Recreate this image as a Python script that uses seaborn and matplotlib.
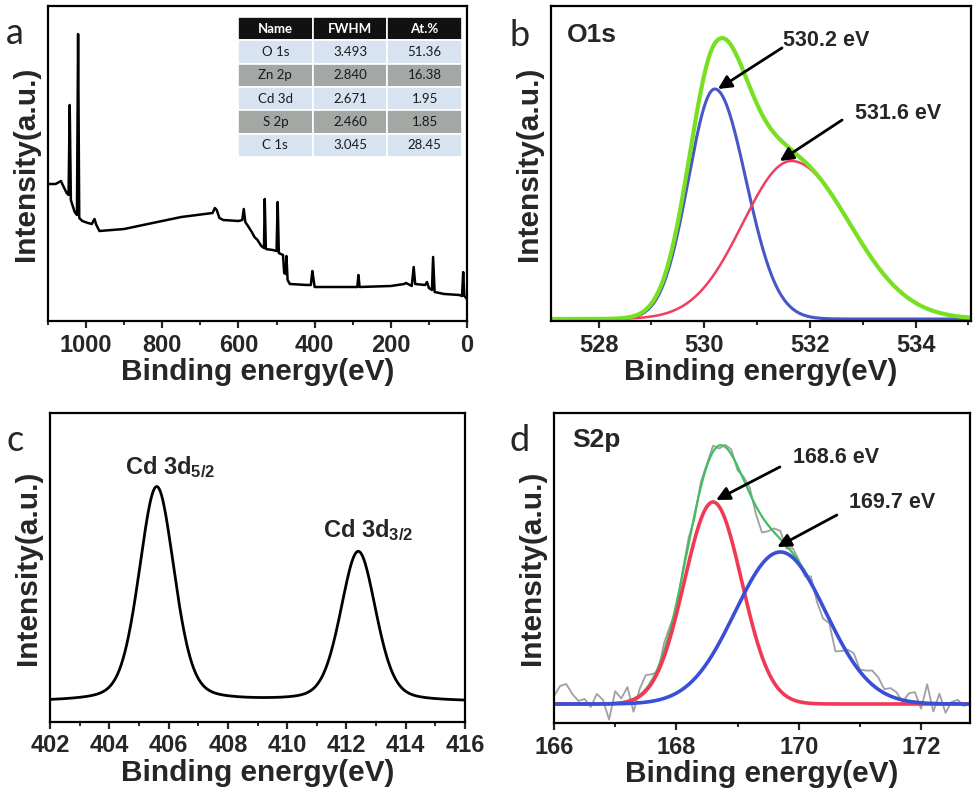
import numpy as np
import pandas as pd
import matplotlib
matplotlib.use("Agg")
import matplotlib.pyplot as plt
import seaborn as sns
from matplotlib.ticker import MultipleLocator

# ---------------- data ----------------
# (a) survey spectrum
survey_energy = [1100, 1080, 1066, 1060, 1051, 1046, 1043, 1040, 1030, 1024, 1021, 1018,
                 1010, 995, 985, 978, 973, 965, 900, 838, 750, 668, 662, 657, 650, 640,
                 600, 590, 586, 582, 575, 565, 558, 550, 540, 533, 531, 528, 510, 500,
                 497, 494, 483, 480, 476, 474, 471, 465, 420, 410, 406, 403, 400, 300,
                 288, 285, 282, 200, 165, 160, 145, 140, 136, 110, 105, 100, 92, 89,
                 85, 60, 20, 13, 10, 7, 2, 0]
survey_intensity = [137, 137, 140, 135, 128, 126, 216, 121, 109, 106, 287, 103,
                    100, 98, 97, 102, 96, 90, 92, 97, 104, 108, 113, 111, 103, 101,
                    100, 101, 112, 99, 95, 89, 84, 81, 75, 73, 122, 72, 71, 70,
                    119, 68, 66, 48, 47, 65, 41, 37, 36, 36, 50, 42, 34, 34,
                    34, 46, 34, 35, 37, 38, 35, 54, 37, 36, 39, 33, 31, 64,
                    29, 27, 26, 25, 49, 25, 23, 22]

table_columns = ["Name", "FWHM", "At.%"]
table_names = ["O 1s", "Zn 2p", "Cd 3d", "S 2p", "C 1s"]
table_fwhm = ["3.493", "2.840", "2.671", "2.460", "3.045"]
table_at = ["51.36", "16.38", "1.95", "1.85", "28.45"]

# (b) O1s fit components
o1s_centers = [530.2, 531.65]
o1s_heights = [230, 158]
o1s_sigma_left = [0.50, 0.92]
o1s_sigma_right = [0.59, 1.10]
o1s_baseline = 2
o1s_labels = ["530.2 eV", "531.6 eV"]

# (c) Cd 3d peaks
cd_centers = [405.6, 412.4]
cd_heights = [215, 150]
cd_fwhm = [1.41, 1.41]
cd_eta = 0.3
cd_baseline = 20
cd_labels = [r"Cd 3d$_{\mathbf{5/2}}$", r"Cd 3d$_{\mathbf{3/2}}$"]

# (d) S2p fit components + raw residual (raw - fit), 0.1 eV steps from 166.0
s2p_centers = [168.6, 169.7]
s2p_heights = [202, 152]
s2p_sigma = [0.47, 0.74]
s2p_baseline = 19
s2p_labels = ["168.6 eV", "169.7 eV"]
s2p_residual = [8, 18, 20, 10, 3, 5, -3, 10, 4, -16,
                12, 4, 14, -13, 6, 14, 6, -4, 8, 4,
                -6, 3, 6, -4, 5, 2, 6, -3, 2, 5,
                -4, 3, 6, -8, -16, -6, 4, 8, -3, 5,
                2, -5, 6, -8, -12, -4, -20, -8, 4, 10,
                2, 8, 14, 12, 4, 8, 6, -2, 8, 10,
                -6, 19, -8, 10, -9, 2, 4, -2, 0]

# ---------------- helpers ----------------
def asym_gauss(x, c, h, sl, sr):
    s = np.where(x < c, sl, sr)
    return h * np.exp(-(x - c) ** 2 / (2 * s ** 2))

def gauss(x, c, h, s):
    return h * np.exp(-(x - c) ** 2 / (2 * s ** 2))

def pvoigt(x, c, h, fwhm, eta):
    sg = fwhm / 2.3548
    g = np.exp(-(x - c) ** 2 / (2 * sg ** 2))
    l = 1.0 / (1.0 + ((x - c) / (fwhm / 2)) ** 2)
    return h * ((1 - eta) * g + eta * l)

# ---------------- style ----------------
sns.set_style("ticks")
plt.rcParams["font.family"] = ["Liberation Sans", "DejaVu Sans"]
plt.rcParams["mathtext.fontset"] = "custom"
plt.rcParams["mathtext.rm"] = "Liberation Sans:bold"
plt.rcParams["mathtext.bf"] = "Liberation Sans:bold"
plt.rcParams["mathtext.it"] = "Liberation Sans:bold"

fig = plt.figure(figsize=(9.8, 7.91), dpi=100)
W, H = 980, 791

def axes_px(l, t, r, b):
    return fig.add_axes([l / W, 1 - b / H, (r - l) / W, (b - t) / H])

ax_a = axes_px(48, 6, 467, 321)
ax_b = axes_px(551, 6, 971, 321)
ax_c = axes_px(50, 413, 465, 722)
ax_d = axes_px(554, 413, 970, 723)

def style_axis(ax, major, minor):
    ax.xaxis.set_major_locator(MultipleLocator(major))
    ax.xaxis.set_minor_locator(MultipleLocator(minor))
    ax.set_yticks([])
    ax.tick_params(axis="x", which="major", direction="out", length=5, width=1.6,
                   labelsize=17, pad=4)
    ax.tick_params(axis="x", which="minor", direction="out", length=3, width=1.4)
    for lab in ax.get_xticklabels():
        lab.set_fontweight("bold")
    for sp in ax.spines.values():
        sp.set_visible(True)
        sp.set_linewidth(1.6)
        sp.set_color("black")
    ax.set_xlabel("Binding energy(eV)", fontsize=21.5, fontweight="bold", labelpad=1)
    ax.set_ylabel("Intensity(a.u.)", fontsize=21.5, fontweight="bold", labelpad=6)

# ---------------- (a) ----------------
df_a = pd.DataFrame({"E": survey_energy, "I": survey_intensity})
sns.lineplot(data=df_a, x="E", y="I", ax=ax_a, color="black", lw=1.8,
             estimator=None, sort=False)
ax_a.set_xlim(1100, 0)
ax_a.set_ylim(0, 315)
style_axis(ax_a, 200, 100)

cell_text = [[n, f, a] for n, f, a in zip(table_names, table_fwhm, table_at)]
tab = ax_a.table(cellText=cell_text, colLabels=table_columns, cellLoc="center",
                 bbox=[(238 - 48) / 419, (321 - 157) / 315, 224 / 419, 140 / 315])
tab.auto_set_font_size(False)
for (r, c), cell in tab.get_celld().items():
    cell.set_edgecolor("white")
    cell.set_linewidth(1.2)
    txt = cell.get_text()
    txt.set_fontfamily(["Lato", "DejaVu Sans"])
    txt.set_fontsize(9.5)
    if r == 0:
        cell.set_facecolor("#111111")
        txt.set_color("white")
        txt.set_fontweight("bold")
    elif r % 2 == 0:
        cell.set_facecolor("#a4a8a5")
        txt.set_color("#1a1a1a")
    else:
        cell.set_facecolor("#d8e3f1")
        txt.set_color("#1a1a1a")

# ---------------- (b) ----------------
xb = np.linspace(527.1, 535.05, 600)
b_blue = asym_gauss(xb, o1s_centers[0], o1s_heights[0], o1s_sigma_left[0], o1s_sigma_right[0])
b_red = asym_gauss(xb, o1s_centers[1], o1s_heights[1], o1s_sigma_left[1], o1s_sigma_right[1])
df_b = pd.DataFrame({"E": xb, "blue": b_blue + o1s_baseline, "red": b_red + o1s_baseline,
                     "green": b_blue + b_red + o1s_baseline})
sns.lineplot(data=df_b, x="E", y="blue", ax=ax_b, color="#4a55c8", lw=2.2, estimator=None)
sns.lineplot(data=df_b, x="E", y="red", ax=ax_b, color="#ee3f5f", lw=1.8, estimator=None)
sns.lineplot(data=df_b, x="E", y="green", ax=ax_b, color="#77e022", lw=3, estimator=None)
ax_b.set_xlim(527.1, 535.05)
ax_b.set_ylim(0, 315)
style_axis(ax_b, 2, 1)
ax_b.text(0.038, 0.908, "O1s", transform=ax_b.transAxes, fontsize=19, fontweight="bold",
          ha="left", va="center")
ax_b.text(0.655, 0.892, o1s_labels[0], transform=ax_b.transAxes, fontsize=15.5,
          fontweight="bold", ha="center", va="center")
ax_b.text(0.826, 0.660, o1s_labels[1], transform=ax_b.transAxes, fontsize=15.5,
          fontweight="bold", ha="center", va="center")
arrow = dict(arrowstyle="-|>", lw=2, color="black", mutation_scale=20, shrinkA=0, shrinkB=0)
ax_b.annotate("", xy=(o1s_centers[0] + 0.06, o1s_heights[0] + o1s_baseline), xycoords="data",
              xytext=(0.55, 0.867), textcoords="axes fraction", arrowprops=arrow)
ax_b.annotate("", xy=(o1s_centers[1] - 0.22, o1s_heights[1] + o1s_baseline), xycoords="data",
              xytext=(0.693, 0.638), textcoords="axes fraction", arrowprops=arrow)

# ---------------- (c) ----------------
xc = np.linspace(402, 416, 700)
c_y = cd_baseline + sum(pvoigt(xc, c, h, f, cd_eta)
                        for c, h, f in zip(cd_centers, cd_heights, cd_fwhm))
df_c = pd.DataFrame({"E": xc, "I": c_y})
sns.lineplot(data=df_c, x="E", y="I", ax=ax_c, color="black", lw=2, estimator=None)
ax_c.set_xlim(402, 416)
ax_c.set_ylim(0, 309)
style_axis(ax_c, 2, 1)
ax_c.text(0.289, 0.825, cd_labels[0], transform=ax_c.transAxes, fontsize=17,
          fontweight="bold", ha="center", va="center")
ax_c.text(0.766, 0.621, cd_labels[1], transform=ax_c.transAxes, fontsize=17,
          fontweight="bold", ha="center", va="center")

# ---------------- (d) ----------------
xd = np.linspace(166, 172.8, 500)
d_red = gauss(xd, s2p_centers[0], s2p_heights[0], s2p_sigma[0])
d_blue = gauss(xd, s2p_centers[1], s2p_heights[1], s2p_sigma[1])
x_raw = np.round(166.0 + 0.1 * np.arange(len(s2p_residual)), 2)
raw = (s2p_baseline + gauss(x_raw, s2p_centers[0], s2p_heights[0], s2p_sigma[0])
       + gauss(x_raw, s2p_centers[1], s2p_heights[1], s2p_sigma[1]) + np.array(s2p_residual))
df_raw = pd.DataFrame({"E": x_raw, "I": raw})
df_d = pd.DataFrame({"E": xd, "red": d_red + s2p_baseline, "blue": d_blue + s2p_baseline,
                     "green": d_red + d_blue + s2p_baseline})
sns.lineplot(data=df_raw, x="E", y="I", ax=ax_d, color="#a0a0a0", lw=1.3, estimator=None)
sns.lineplot(data=df_d, x="E", y="green", ax=ax_d, color="#3fbf5f", lw=1.6, estimator=None)
sns.lineplot(data=df_d, x="E", y="red", ax=ax_d, color="#f03a55", lw=2.6, estimator=None)
sns.lineplot(data=df_d, x="E", y="blue", ax=ax_d, color="#3a4fd8", lw=2.6, estimator=None)
ax_d.set_xlim(166, 172.8)
ax_d.set_ylim(0, 310)
style_axis(ax_d, 2, 1)
ax_d.text(0.043, 0.913, "S2p", transform=ax_d.transAxes, fontsize=19, fontweight="bold",
          ha="left", va="center")
ax_d.text(0.678, 0.855, s2p_labels[0], transform=ax_d.transAxes, fontsize=15.5,
          fontweight="bold", ha="center", va="center")
ax_d.text(0.8125, 0.71, s2p_labels[1], transform=ax_d.transAxes, fontsize=15.5,
          fontweight="bold", ha="center", va="center")
ax_d.annotate("", xy=(s2p_centers[0] + 0.05, s2p_heights[0] + s2p_baseline + 2), xycoords="data",
              xytext=(0.543, 0.826), textcoords="axes fraction", arrowprops=arrow)
ax_d.annotate("", xy=(s2p_centers[1] - 0.05, s2p_heights[1] + s2p_baseline + 5), xycoords="data",
              xytext=(0.680, 0.671), textcoords="axes fraction", arrowprops=arrow)

# ---------------- panel letters ----------------
for lab, (px, py) in zip("abcd", [(15, 33), (520, 36), (15, 440), (520, 440)]):
    fig.text(px / W, 1 - py / H, lab, fontsize=26, family=["Lato", "DejaVu Sans"],
             ha="center", va="center")

fig.savefig("out.png", dpi=100)
